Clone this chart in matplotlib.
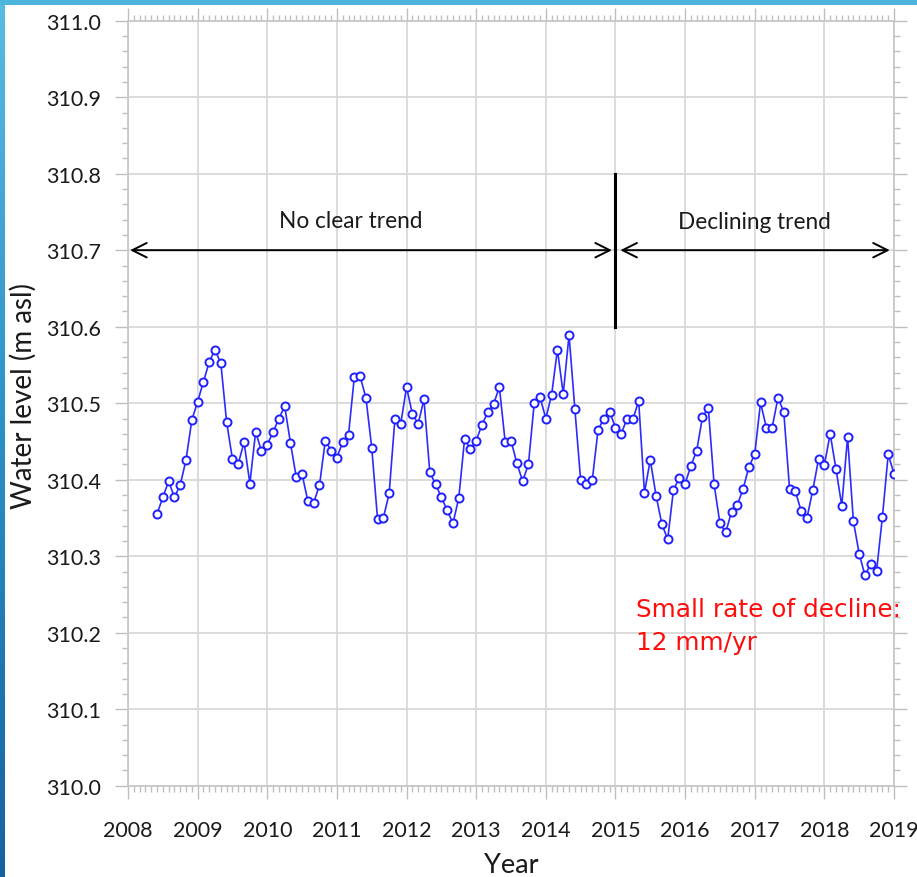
import numpy as np
import pandas as pd
import matplotlib
matplotlib.use("Agg")
import matplotlib.pyplot as plt
from matplotlib.patches import Rectangle
from matplotlib.colors import LinearSegmentedColormap
from matplotlib.ticker import MultipleLocator, FormatStrFormatter

# Monthly groundwater level record, June 2008 - January 2019
start_month = "2008-06-01"
level_m_asl = [
    310.355, 310.377, 310.398, 310.377, 310.393, 310.426, 310.478, 310.502,
    310.528, 310.554, 310.570, 310.552, 310.475, 310.427, 310.421, 310.449,
    310.395, 310.463, 310.437, 310.446, 310.462, 310.480, 310.496, 310.448,
    310.403, 310.407, 310.372, 310.370, 310.393, 310.451, 310.438, 310.429,
    310.449, 310.459, 310.534, 310.535, 310.507, 310.442, 310.349, 310.350,
    310.382, 310.480, 310.473, 310.521, 310.486, 310.473, 310.505, 310.410,
    310.394, 310.377, 310.360, 310.343, 310.376, 310.453, 310.440, 310.451,
    310.472, 310.488, 310.499, 310.521, 310.449, 310.451, 310.422, 310.398,
    310.420, 310.500, 310.508, 310.480, 310.511, 310.570, 310.512, 310.589,
    310.493, 310.399, 310.394, 310.399, 310.465, 310.480, 310.489, 310.468,
    310.460, 310.480, 310.479, 310.503, 310.383, 310.426, 310.379, 310.342,
    310.322, 310.387, 310.402, 310.395, 310.418, 310.438, 310.482, 310.494,
    310.394, 310.343, 310.331, 310.358, 310.367, 310.388, 310.417, 310.433,
    310.501, 310.468, 310.468, 310.507, 310.489, 310.388, 310.385, 310.359,
    310.350, 310.386, 310.427, 310.419, 310.460, 310.414, 310.366, 310.456,
    310.346, 310.303, 310.275, 310.290, 310.281, 310.351, 310.433, 310.408,
]

year_ticks = list(range(2008, 2020))
level_ticks = [310.0, 310.1, 310.2, 310.3, 310.4, 310.5, 310.6, 310.7, 310.8, 310.9, 311.0]

trend_break_year = 2015
break_line_levels = [310.6, 310.8]
arrow_level = 310.7
period_labels = ["No clear trend", "Declining trend"]
decline_note = ["Small rate of decline:", "12 mm/yr"]

months = pd.date_range(start_month, periods=len(level_m_asl), freq="MS")
decimal_year = months.year + (months.month - 1) / 12.0

plt.rcParams["font.family"] = ["Lato", "DejaVu Sans"]

fig = plt.figure(figsize=(9.17, 8.78), dpi=100)
fig.patch.set_facecolor("white")

# slide frame: light band along the top, gradient band down the left edge
fig.patches.append(Rectangle((0, 1 - 6 / 878), 1, 6 / 878, transform=fig.transFigure,
                             facecolor="#4db5dc", edgecolor="none", zorder=0))
band = fig.add_axes([0, 0, 5 / 917, 1])
grad = np.linspace(0, 1, 256).reshape(-1, 1)
frame_cmap = LinearSegmentedColormap.from_list("frame", ["#58bde2", "#2a8fc6", "#1662a0"])
band.imshow(grad, aspect="auto", cmap=frame_cmap, extent=[0, 1, 0, 1], origin="upper")
band.set_axis_off()

ax = fig.add_axes([128 / 917, 91.3 / 878, 766 / 917, 765 / 878])

ax.plot(decimal_year, level_m_asl, color="#2b2bff", lw=1.2, marker="o",
        markersize=5.8, markerfacecolor="white", markeredgecolor="#2020ff",
        markeredgewidth=1.4, zorder=3)

ax.set_xlim(year_ticks[0], year_ticks[-1])
ax.set_ylim(level_ticks[0], level_ticks[-1])
ax.set_xticks(year_ticks)
ax.set_yticks(level_ticks)
ax.yaxis.set_major_formatter(FormatStrFormatter("%.1f"))
ax.xaxis.set_minor_locator(MultipleLocator(1 / 12))
ax.yaxis.set_minor_locator(MultipleLocator(0.02))

ax.grid(which="major", color="#d9d9d9", lw=1.3, zorder=0)
for sp in ax.spines.values():
    sp.set_color("#c8c8c8")
    sp.set_linewidth(1.3)

ax.tick_params(which="both", direction="out", top=True, right=True,
               color="#bfbfbf", width=1.0, labelcolor="#1a1a1a")
ax.tick_params(which="major", length=9.5, labelsize=15.5)
ax.tick_params(axis="x", which="major", pad=15)
ax.tick_params(axis="y", which="major", pad=10)
ax.tick_params(which="minor", length=4.3)

ax.set_xlabel("Year", fontsize=19.5, color="#1a1a1a", labelpad=9)
ax.set_ylabel("Water level (m asl)", fontsize=20, color="#1a1a1a")
ax.yaxis.set_label_coords(-0.119, 0.511)

# boundary between the two periods
ax.plot([trend_break_year, trend_break_year], break_line_levels, color="black",
        lw=2.2, zorder=4)

arrow_kw = dict(arrowstyle="<->", color="black", lw=1.4, mutation_scale=26,
                shrinkA=0, shrinkB=0)
ax.annotate("", xy=(2008.03, arrow_level), xytext=(2014.95, arrow_level),
            arrowprops=arrow_kw, zorder=4)
ax.annotate("", xy=(2015.07, arrow_level), xytext=(2018.94, arrow_level),
            arrowprops=arrow_kw, zorder=4)

ax.text(2011.20, 310.730, period_labels[0], ha="center", va="baseline",
        fontsize=16.3, color="#1a1a1a")
ax.text(2017.00, 310.729, period_labels[1], ha="center", va="baseline",
        fontsize=16.3, color="#1a1a1a")

note_font = dict(family=["DejaVu Sans"], fontsize=17.8, color="#ff0d0d")
ax.text(2015.29, 310.222, decline_note[0], ha="left", va="baseline",
        clip_on=False, **note_font)
ax.text(2015.29, 310.179, decline_note[1], ha="left", va="baseline",
        clip_on=False, **note_font)

fig.savefig("out.png", dpi=100)
